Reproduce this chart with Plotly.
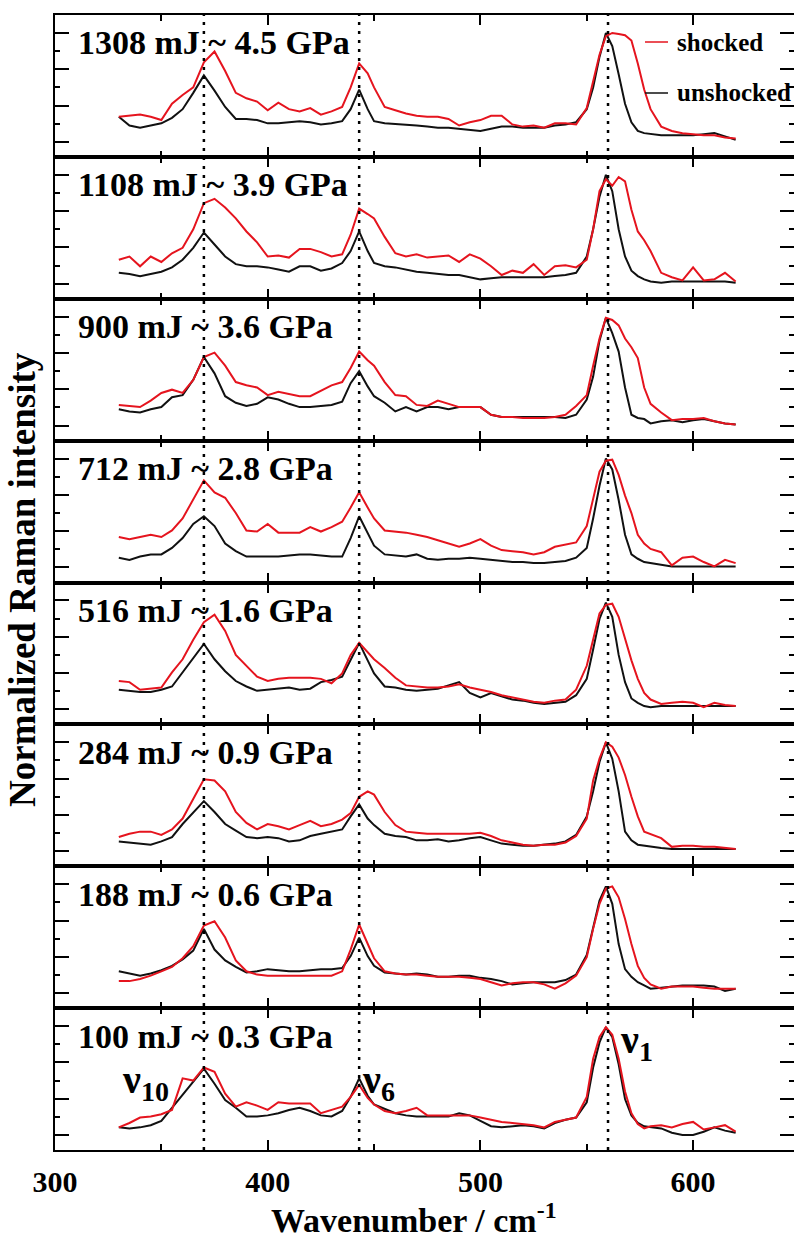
import plotly.graph_objects as go

# ---------------- data ----------------
wavenumber = [330, 335, 340, 345, 350, 355, 360, 365, 370, 375, 380, 385, 390, 395, 400, 405, 410, 415, 420,
              425, 430, 435, 439, 443, 447, 450, 455, 460, 465, 470, 475, 480, 485, 490, 495, 500, 505, 510,
              515, 520, 525, 530, 535, 540, 545, 550, 553, 556, 559, 562, 565, 568, 571, 574, 577, 580, 585,
              590, 595, 600, 605, 610, 615, 620]

panel_labels = ["1308 mJ ~ 4.5 GPa", "1108 mJ ~ 3.9 GPa", "900 mJ ~ 3.6 GPa", "712 mJ ~ 2.8 GPa",
                "516 mJ ~ 1.6 GPa", "284 mJ ~ 0.9 GPa", "188 mJ ~ 0.6 GPa", "100 mJ ~ 0.3 GPa"]

unshocked_1308 = [0.23, 0.15, 0.13, 0.15, 0.17, 0.22, 0.30, 0.45, 0.61, 0.47, 0.32, 0.21, 0.21, 0.20, 0.17, 0.17,
                  0.18, 0.19, 0.18, 0.16, 0.17, 0.19, 0.30, 0.48, 0.30, 0.19, 0.17, 0.165, 0.16, 0.15, 0.14, 0.13,
                  0.13, 0.12, 0.11, 0.10, 0.12, 0.14, 0.14, 0.13, 0.13, 0.13, 0.15, 0.16, 0.18, 0.30, 0.50, 0.78,
                  1.0, 0.88, 0.62, 0.35, 0.18, 0.10, 0.08, 0.07, 0.06, 0.06, 0.06, 0.06, 0.07, 0.08, 0.05, 0.02]
shocked_1308 = [0.23, 0.24, 0.25, 0.23, 0.20, 0.35, 0.43, 0.50, 0.73, 0.83, 0.65, 0.45, 0.40, 0.37, 0.29, 0.36,
                0.30, 0.28, 0.31, 0.25, 0.28, 0.32, 0.50, 0.72, 0.63, 0.50, 0.32, 0.29, 0.26, 0.24, 0.23, 0.23,
                0.21, 0.15, 0.18, 0.20, 0.24, 0.24, 0.16, 0.14, 0.15, 0.13, 0.17, 0.17, 0.16, 0.31, 0.55, 0.80,
                0.97, 1.0, 0.99, 0.98, 0.93, 0.72, 0.48, 0.30, 0.14, 0.10, 0.08, 0.07, 0.06, 0.06, 0.04, 0.03]

unshocked_1108 = [0.10, 0.09, 0.07, 0.09, 0.11, 0.15, 0.22, 0.33, 0.47, 0.36, 0.25, 0.18, 0.16, 0.16, 0.15, 0.13,
                  0.11, 0.16, 0.16, 0.12, 0.14, 0.19, 0.30, 0.48, 0.30, 0.19, 0.16, 0.15, 0.13, 0.11, 0.10, 0.09,
                  0.08, 0.08, 0.06, 0.04, 0.05, 0.06, 0.06, 0.06, 0.06, 0.06, 0.07, 0.08, 0.10, 0.25, 0.50, 0.80,
                  1.0, 0.85, 0.50, 0.25, 0.12, 0.07, 0.04, 0.02, 0.01, 0.02, 0.02, 0.02, 0.02, 0.02, 0.02, 0.01]
shocked_1108 = [0.22, 0.25, 0.16, 0.25, 0.20, 0.28, 0.33, 0.50, 0.74, 0.78, 0.70, 0.60, 0.48, 0.38, 0.25, 0.26,
                0.24, 0.32, 0.32, 0.29, 0.25, 0.27, 0.45, 0.69, 0.64, 0.60, 0.43, 0.28, 0.25, 0.27, 0.24, 0.25,
                0.26, 0.20, 0.27, 0.23, 0.16, 0.08, 0.12, 0.10, 0.18, 0.08, 0.16, 0.17, 0.15, 0.22, 0.50, 0.85,
                0.96, 0.90, 0.98, 0.94, 0.68, 0.48, 0.40, 0.30, 0.10, 0.06, 0.03, 0.15, 0.03, 0.04, 0.10, 0.02]

unshocked_900 = [0.15, 0.13, 0.12, 0.15, 0.17, 0.26, 0.28, 0.42, 0.63, 0.48, 0.27, 0.21, 0.18, 0.20, 0.26, 0.24,
                 0.20, 0.17, 0.17, 0.18, 0.19, 0.22, 0.39, 0.50, 0.36, 0.27, 0.21, 0.13, 0.17, 0.13, 0.17, 0.17,
                 0.15, 0.17, 0.17, 0.17, 0.10, 0.08, 0.08, 0.08, 0.08, 0.08, 0.08, 0.07, 0.10, 0.24, 0.45, 0.78,
                 0.99, 0.85, 0.68, 0.35, 0.10, 0.07, 0.06, 0.02, 0.04, 0.05, 0.03, 0.05, 0.06, 0.04, 0.02, 0.01]
shocked_900 = [0.19, 0.18, 0.17, 0.23, 0.30, 0.33, 0.30, 0.42, 0.63, 0.67, 0.55, 0.40, 0.37, 0.35, 0.28, 0.31,
               0.29, 0.27, 0.27, 0.32, 0.37, 0.40, 0.53, 0.68, 0.60, 0.55, 0.40, 0.28, 0.27, 0.19, 0.18, 0.23,
               0.20, 0.17, 0.17, 0.17, 0.10, 0.08, 0.08, 0.07, 0.07, 0.07, 0.08, 0.10, 0.18, 0.28, 0.55, 0.80,
               0.99, 0.97, 0.92, 0.80, 0.72, 0.62, 0.35, 0.20, 0.12, 0.05, 0.06, 0.06, 0.07, 0.04, 0.02, 0.01]

unshocked_712 = [0.09, 0.07, 0.10, 0.12, 0.12, 0.18, 0.27, 0.40, 0.47, 0.38, 0.22, 0.15, 0.10, 0.10, 0.10, 0.10,
                 0.11, 0.12, 0.12, 0.11, 0.10, 0.10, 0.27, 0.47, 0.32, 0.20, 0.12, 0.11, 0.10, 0.12, 0.08, 0.07,
                 0.08, 0.08, 0.09, 0.08, 0.07, 0.06, 0.05, 0.05, 0.04, 0.04, 0.05, 0.06, 0.09, 0.18, 0.45, 0.75,
                 1.0, 0.90, 0.62, 0.30, 0.12, 0.08, 0.05, 0.04, 0.02, 0.01, 0.01, 0.01, 0.01, 0.01, 0.01, 0.01]
shocked_712 = [0.28, 0.26, 0.28, 0.30, 0.28, 0.34, 0.45, 0.62, 0.80, 0.69, 0.64, 0.50, 0.34, 0.33, 0.40, 0.32,
               0.32, 0.32, 0.37, 0.33, 0.37, 0.42, 0.55, 0.69, 0.55, 0.45, 0.34, 0.33, 0.32, 0.30, 0.28, 0.25,
               0.22, 0.19, 0.22, 0.26, 0.20, 0.16, 0.15, 0.14, 0.12, 0.14, 0.19, 0.21, 0.23, 0.38, 0.62, 0.88,
               0.98, 0.99, 0.85, 0.66, 0.50, 0.30, 0.22, 0.17, 0.14, 0.02, 0.09, 0.10, 0.05, 0.01, 0.07, 0.04]

unshocked_516 = [0.18, 0.17, 0.16, 0.16, 0.18, 0.21, 0.34, 0.48, 0.60, 0.46, 0.35, 0.26, 0.21, 0.17, 0.18, 0.19,
                 0.20, 0.18, 0.19, 0.25, 0.27, 0.30, 0.45, 0.61, 0.45, 0.33, 0.21, 0.20, 0.18, 0.17, 0.18, 0.19,
                 0.22, 0.25, 0.15, 0.11, 0.15, 0.12, 0.09, 0.08, 0.06, 0.05, 0.06, 0.07, 0.13, 0.28, 0.55, 0.83,
                 0.98, 0.85, 0.50, 0.25, 0.10, 0.06, 0.03, 0.02, 0.03, 0.03, 0.03, 0.03, 0.03, 0.03, 0.03, 0.03]
shocked_516 = [0.26, 0.25, 0.18, 0.19, 0.20, 0.34, 0.46, 0.64, 0.80, 0.87, 0.72, 0.50, 0.40, 0.30, 0.26, 0.28,
               0.29, 0.29, 0.29, 0.28, 0.24, 0.33, 0.50, 0.61, 0.52, 0.46, 0.38, 0.29, 0.22, 0.21, 0.20, 0.20,
               0.21, 0.23, 0.20, 0.18, 0.16, 0.13, 0.11, 0.09, 0.07, 0.06, 0.08, 0.09, 0.18, 0.40, 0.65, 0.88,
               0.96, 0.97, 0.85, 0.65, 0.45, 0.28, 0.15, 0.09, 0.05, 0.06, 0.07, 0.06, 0.02, 0.06, 0.04, 0.03]

unshocked_284 = [0.09, 0.08, 0.07, 0.06, 0.09, 0.13, 0.25, 0.36, 0.46, 0.36, 0.25, 0.19, 0.13, 0.12, 0.13, 0.12,
                 0.09, 0.10, 0.14, 0.16, 0.18, 0.20, 0.32, 0.43, 0.30, 0.24, 0.16, 0.14, 0.13, 0.10, 0.10, 0.11,
                 0.09, 0.10, 0.12, 0.13, 0.10, 0.07, 0.06, 0.05, 0.05, 0.06, 0.07, 0.09, 0.15, 0.32, 0.55, 0.82,
                 1.0, 0.85, 0.55, 0.18, 0.10, 0.06, 0.05, 0.04, 0.03, 0.02, 0.02, 0.02, 0.02, 0.02, 0.02, 0.02]
shocked_284 = [0.13, 0.16, 0.18, 0.18, 0.15, 0.20, 0.30, 0.48, 0.66, 0.65, 0.55, 0.36, 0.26, 0.20, 0.25, 0.23,
               0.20, 0.24, 0.28, 0.23, 0.25, 0.29, 0.35, 0.50, 0.55, 0.52, 0.36, 0.24, 0.18, 0.17, 0.16, 0.16,
               0.16, 0.16, 0.16, 0.17, 0.14, 0.10, 0.08, 0.06, 0.05, 0.06, 0.06, 0.08, 0.14, 0.30, 0.65, 0.85,
               1.0, 0.96, 0.86, 0.70, 0.50, 0.32, 0.18, 0.16, 0.12, 0.04, 0.05, 0.05, 0.04, 0.04, 0.03, 0.02]

unshocked_188 = [0.20, 0.18, 0.16, 0.18, 0.21, 0.25, 0.31, 0.39, 0.59, 0.40, 0.30, 0.24, 0.19, 0.20, 0.22, 0.21,
                 0.20, 0.20, 0.21, 0.22, 0.22, 0.23, 0.34, 0.51, 0.34, 0.25, 0.19, 0.18, 0.17, 0.18, 0.17, 0.15,
                 0.15, 0.16, 0.16, 0.14, 0.13, 0.11, 0.08, 0.09, 0.10, 0.10, 0.10, 0.12, 0.17, 0.35, 0.60, 0.85,
                 0.98, 0.82, 0.45, 0.22, 0.15, 0.10, 0.07, 0.04, 0.05, 0.06, 0.07, 0.07, 0.07, 0.06, 0.02, 0.04]
shocked_188 = [0.11, 0.11, 0.13, 0.16, 0.20, 0.24, 0.32, 0.43, 0.62, 0.66, 0.51, 0.30, 0.20, 0.17, 0.16, 0.16,
               0.16, 0.16, 0.16, 0.16, 0.16, 0.20, 0.40, 0.63, 0.45, 0.32, 0.20, 0.18, 0.17, 0.17, 0.16, 0.15,
               0.15, 0.15, 0.14, 0.13, 0.10, 0.07, 0.09, 0.10, 0.10, 0.08, 0.04, 0.09, 0.16, 0.33, 0.59, 0.82,
               0.96, 0.98, 0.88, 0.68, 0.45, 0.25, 0.14, 0.08, 0.04, 0.06, 0.06, 0.06, 0.05, 0.04, 0.04, 0.04]

unshocked_100 = [0.07, 0.06, 0.07, 0.09, 0.13, 0.25, 0.38, 0.50, 0.61, 0.47, 0.32, 0.25, 0.17, 0.17, 0.18, 0.20,
                 0.23, 0.25, 0.22, 0.18, 0.17, 0.22, 0.35, 0.52, 0.36, 0.28, 0.24, 0.20, 0.18, 0.17, 0.17, 0.17,
                 0.17, 0.20, 0.18, 0.13, 0.08, 0.07, 0.08, 0.09, 0.08, 0.06, 0.11, 0.14, 0.16, 0.30, 0.62, 0.85,
                 0.99, 0.90, 0.65, 0.33, 0.18, 0.11, 0.08, 0.07, 0.06, 0.02, 0.0, 0.0, 0.03, 0.07, 0.04, 0.02]
shocked_100 = [0.07, 0.11, 0.16, 0.17, 0.19, 0.23, 0.52, 0.50, 0.62, 0.58, 0.38, 0.26, 0.30, 0.27, 0.23, 0.30,
               0.29, 0.29, 0.29, 0.20, 0.23, 0.26, 0.35, 0.46, 0.34, 0.28, 0.22, 0.20, 0.22, 0.25, 0.18, 0.18,
               0.18, 0.18, 0.18, 0.16, 0.14, 0.12, 0.11, 0.10, 0.09, 0.07, 0.12, 0.14, 0.16, 0.35, 0.70, 0.90,
               0.99, 0.92, 0.70, 0.40, 0.20, 0.10, 0.06, 0.08, 0.09, 0.07, 0.10, 0.12, 0.05, 0.07, 0.09, 0.03]

shocked_series = [shocked_1308, shocked_1108, shocked_900, shocked_712,
                  shocked_516, shocked_284, shocked_188, shocked_100]
unshocked_series = [unshocked_1308, unshocked_1108, unshocked_900, unshocked_712,
                    unshocked_516, unshocked_284, unshocked_188, unshocked_100]

mode_positions = [370, 443, 560]
mode_labels = ["ν<sub>10</sub>", "ν<sub>6</sub>", "ν<sub>1</sub>"]
legend_labels = ["shocked", "unshocked"]
x_title = "Wavenumber / cm<sup>-1</sup>"
y_title = "Normalized Raman intensity"

# ---------------- layout helpers ----------------
W, H = 794, 1240
SERIF = "Liberation Serif"
RED = "#e5141e"
BLACK = "#111111"

plot_left = 55
plot_right = W
plot_top = 15
plot_bottom = 1150
n = len(panel_labels)
ph = (plot_bottom - plot_top) / n
px_per_cm = 2.127
x_range = [300, 300 + (plot_right - plot_left) / px_per_cm]


def py(p):
    return 1 - p / H


def pxf(p):
    return p / W


fig = go.Figure()
layout = dict(
    template="none",
    width=W, height=H, margin=dict(l=0, r=0, t=0, b=0, autoexpand=False),
    paper_bgcolor="white", plot_bgcolor="white", showlegend=False,
    font=dict(family=SERIF, color="black"),
)

annotations = []
shapes = []

for i in range(n):
    k = i + 1
    xa = "x" if k == 1 else f"x{k}"
    ya = "y" if k == 1 else f"y{k}"
    top = plot_top + i * ph
    bot = top + ph
    fig.add_trace(go.Scatter(x=wavenumber, y=unshocked_series[i], mode="lines",
                             line=dict(color=BLACK, width=2), xaxis=xa, yaxis=ya, name="unshocked"))
    fig.add_trace(go.Scatter(x=wavenumber, y=shocked_series[i], mode="lines",
                             line=dict(color=RED, width=2), xaxis=xa, yaxis=ya, name="shocked"))
    last = (i == n - 1)
    layout[f"xaxis{k}" if k > 1 else "xaxis"] = dict(
        domain=[pxf(plot_left), 1], range=x_range, anchor=ya, automargin=False,
        showline=True, linecolor="black", linewidth=2, mirror="ticks",
        ticks="inside", ticklen=10, tickwidth=2, tickcolor="black",
        tickmode="linear", tick0=300, dtick=100,
        minor=dict(ticks="inside", ticklen=6, tickwidth=2, tickcolor="black", dtick=50, tick0=300),
        showgrid=False, zeroline=False,
        showticklabels=last,
        tickfont=dict(family=SERIF, size=30, color="black", weight="bold"),
        ticklabelstandoff=4,
        matches=None if k == 1 else "x",
    )
    layout[f"yaxis{k}" if k > 1 else "yaxis"] = dict(
        domain=[py(bot), py(top)], range=[-0.138, 1.165], anchor=xa, automargin=False,
        showline=True, linecolor="black", linewidth=2, mirror="ticks",
        ticks="inside", ticklen=14, tickwidth=2, tickcolor="black",
        tickmode="linear", tick0=0, dtick=1 / 3,
        minor=dict(ticks="inside", ticklen=5, tickwidth=2, tickcolor="black", dtick=1 / 6, tick0=0),
        showgrid=False, zeroline=False, showticklabels=False,
    )
    annotations.append(dict(
        text=panel_labels[i], xref="paper", yref="paper",
        x=pxf(76), y=py(top + 28), xanchor="left", yanchor="middle", showarrow=False,
        font=dict(family=SERIF, size=34, color="black", weight="bold"),
    ))

# dotted guide lines through all panels
for pos in mode_positions:
    shapes.append(dict(type="line", xref="x8", yref="paper", x0=pos, x1=pos,
                       y0=py(plot_bottom), y1=py(plot_top), layer="above",
                       line=dict(color="black", width=2.5, dash="3px,6px")))

# mode labels in the bottom panel
mode_px = [(120, 1082), (360, 1082), (618, 1042)]
for lab, (lx, ly) in zip(mode_labels, mode_px):
    annotations.append(dict(text=lab, xref="paper", yref="paper", x=pxf(lx), y=py(ly),
                            xanchor="left", yanchor="middle", showarrow=False,
                            font=dict(family=SERIF, size=40, color="black", weight="bold")))

# legend drawn inside top panel
for lab, col, ly in zip(legend_labels, [RED, BLACK], [42, 93]):
    shapes.append(dict(type="line", xref="paper", yref="paper", x0=pxf(645), x1=pxf(668),
                       y0=py(ly), y1=py(ly), line=dict(color=col, width=1.5)))
    annotations.append(dict(text=lab, xref="paper", yref="paper", x=pxf(675), y=py(ly),
                            xanchor="left", yanchor="middle", showarrow=False,
                            font=dict(family=SERIF, size=25, color="black", weight="bold")))

# axis titles
annotations.append(dict(text=x_title, xref="paper", yref="paper", x=pxf(414), y=0,
                        xanchor="center", yanchor="bottom", showarrow=False, borderpad=0,
                        font=dict(family=SERIF, size=34, color="black", weight="bold")))
annotations.append(dict(text=y_title, xref="paper", yref="paper", x=pxf(22), y=py(580),
                        xanchor="center", yanchor="middle", showarrow=False, textangle=-90,
                        font=dict(family=SERIF, size=37, color="black", weight="bold")))

layout["annotations"] = annotations
layout["shapes"] = shapes
fig.update_layout(**layout)
fig.write_html("out.html")
